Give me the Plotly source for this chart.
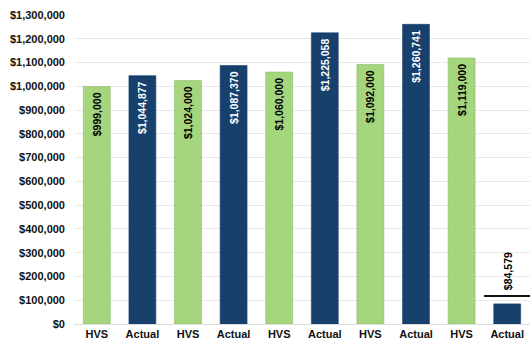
import plotly.graph_objects as go

categories = ["HVS", "Actual", "HVS", "Actual", "HVS", "Actual", "HVS", "Actual", "HVS", "Actual"]
values = [999000, 1044877, 1024000, 1087370, 1060000, 1225058, 1092000, 1260741, 1119000, 84579]
labels = ["$999,000", "$1,044,877", "$1,024,000", "$1,087,370", "$1,060,000",
          "$1,225,058", "$1,092,000", "$1,260,741", "$1,119,000", "$84,579"]
y_ticks = list(range(0, 1300001, 100000))
y_ticktext = ["$0"] + ["${:,}".format(v) for v in y_ticks[1:]]
marker_line_y = 118000

GREEN = "#a5d67e"
BLUE = "#17406d"

x = list(range(len(categories)))
colors = [GREEN if c == "HVS" else BLUE for c in categories]
outline = ["#8cba68" if c == "HVS" else BLUE for c in categories]
text_colors = ["#000000" if c == "HVS" else "#ffffff" for c in categories]
bar_text = [f"<b>{t}</b>&nbsp;" for t in labels[:-1]] + [""]

fig = go.Figure()
fig.add_trace(go.Bar(
    x=x, y=values,
    marker=dict(color=colors, line=dict(width=0.6, color=outline)),
    text=bar_text,
    textposition="inside",
    insidetextanchor="end",
    textangle=-90,
    textfont=dict(family="Liberation Sans, Arial", size=10.5, color=text_colors),
    cliponaxis=False,
    hoverinfo="skip",
))
fig.add_trace(go.Scatter(
    x=[x[-1]], y=[marker_line_y], mode="markers",
    marker=dict(symbol="line-ew", size=33, line=dict(width=2, color="#111111")),
    hoverinfo="skip", cliponaxis=False,
))
fig.add_annotation(
    x=x[-1], y=marker_line_y, text=f"<b>{labels[-1]}</b>", showarrow=False,
    textangle=-90, yanchor="bottom", yshift=4, xshift=1,
    font=dict(family="Liberation Sans, Arial", size=10.5, color="#000000"),
)

fig.update_layout(
    width=530, height=348,
    margin=dict(l=74, r=0, t=15, b=24),
    paper_bgcolor="white", plot_bgcolor="white",
    showlegend=False,
    bargap=0.41,
    font=dict(family="Liberation Sans, Arial", size=11, color="#111111"),
)
fig.update_xaxes(
    tickvals=x, ticktext=[f"<b>{c}</b>" for c in categories],
    range=[-0.5, len(categories) - 0.5],
    showgrid=False, showline=True, linecolor="#dddddd", linewidth=1,
    ticks="", tickfont=dict(size=11, color="#111111"),
)
fig.update_yaxes(
    range=[0, 1300000], tickvals=y_ticks,
    ticktext=[f"<b>{t}</b>" for t in y_ticktext],
    showgrid=True, gridcolor="#e8e8e8", gridwidth=1,
    zeroline=False, showline=False, ticks="",
    ticklabelstandoff=8,
    tickfont=dict(size=11, color="#111111"),
)

fig.write_html("out.html")
